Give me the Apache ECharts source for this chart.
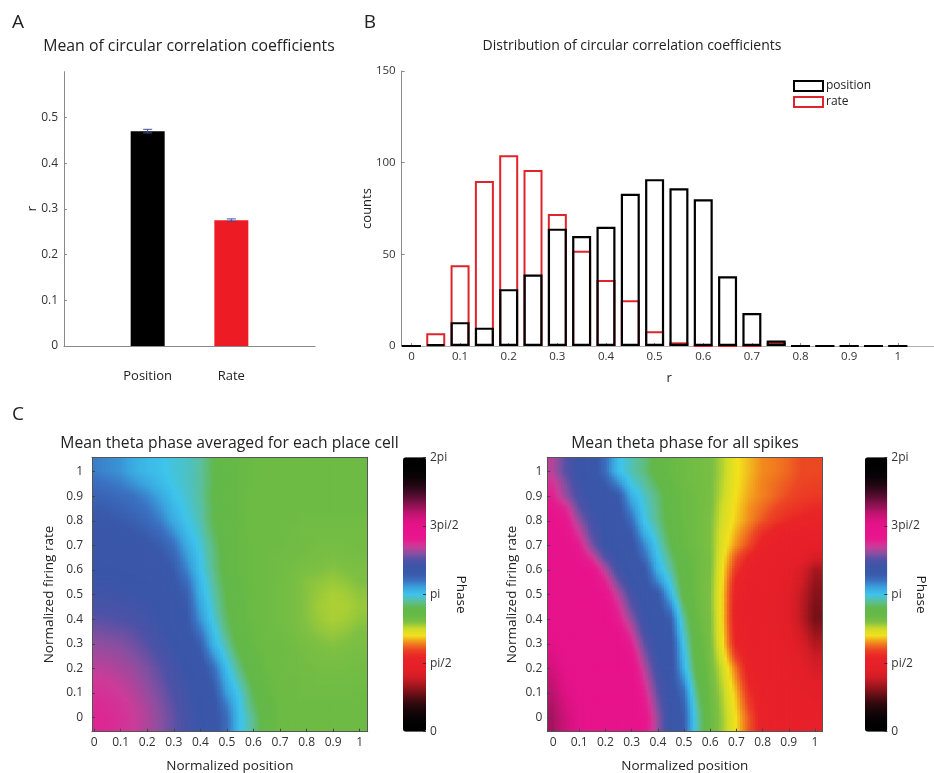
<!DOCTYPE html>
<html>
<head>
<meta charset="utf-8">
<script src="https://cdn.jsdelivr.net/npm/echarts@6/dist/echarts.min.js"></script>
<style>
  html, body { margin: 0; padding: 0; background: #ffffff; }
  #chart { width: 934px; height: 773px; }
</style>
</head>
<body>
<div id="chart"></div>
<script>
// ---------- Panel A: mean circular correlation ----------
const meanLabels = ['Position', 'Rate'];
const meanSlots = [1, 2];
const meanR = [0.470, 0.275];
const meanSem = [0.004, 0.003];
const meanTicks = [0, 0.1, 0.2, 0.3, 0.4, 0.5];
const meanTickLabels = ['0', '0.1', '0.2', '0.3', '0.4', '0.5'];

// ---------- Panel B: distribution of r ----------
const rBins = [0, 0.05, 0.1, 0.15, 0.2, 0.25, 0.3, 0.35, 0.4, 0.45, 0.5,
               0.55, 0.6, 0.65, 0.7, 0.75, 0.8, 0.85, 0.9, 0.95, 1];
const positionCounts = [0, 1, 13, 10, 31, 39, 64, 60, 65, 83, 91, 86, 80, 38, 18, 3, 0, 0, 0, 0, 0];
const rateCounts     = [0, 7, 44, 90, 104, 96, 72, 52, 36, 25, 8, 2, 0, 0, 0, 2, 0, 0, 0, 0, 0];
const countTicks = [0, 50, 100, 150];
const countTickLabels = ['0', '50', '100', '150'];
const rTicks = [0, 0.1, 0.2, 0.3, 0.4, 0.5, 0.6, 0.7, 0.8, 0.9, 1];
const rTickLabels = ['0', '0.1', '0.2', '0.3', '0.4', '0.5', '0.6', '0.7', '0.8', '0.9', '1'];

// ---------- Panel C: mean theta phase (degrees) ----------
const positionBins = [0, 0.05, 0.1, 0.15, 0.2, 0.25, 0.3, 0.35, 0.4, 0.45, 0.5,
                      0.55, 0.6, 0.65, 0.7, 0.75, 0.8, 0.85, 0.9, 0.95, 1];
// rows run from the highest firing-rate bin down to zero
const rateBins = [1, 0.95, 0.9, 0.85, 0.8, 0.75, 0.7, 0.65, 0.6, 0.55, 0.5,
                  0.45, 0.4, 0.35, 0.3, 0.25, 0.2, 0.15, 0.1, 0.05, 0];

const phasePerCell = [
  [196,194,192,187,183,181,178,176,172,163,155,152,151,150,150,150,150,150,150,150,150],
  [200,198,196,192,188,183,179,176,172,163,155,152,151,150,150,150,150,150,150,150,150],
  [203,202,200,198,194,188,181,177,172,162,155,152,150,150,150,150,150,150,150,150,150],
  [206,205,203,201,198,192,184,178,173,163,155,152,150,150,150,150,150,150,150,150,150],
  [208,207,206,204,201,196,187,180,174,163,155,152,150,150,150,150,149,149,149,149,149],
  [210,210,209,207,205,201,193,183,176,165,156,152,150,150,150,149,148,148,148,148,148],
  [212,212,211,210,208,205,199,187,178,168,157,152,151,150,150,149,148,147,147,147,148],
  [213,213,213,212,210,208,203,191,180,169,158,152,151,150,149,148,147,146,145,146,147],
  [214,214,214,213,212,210,206,195,181,170,158,152,151,150,149,147,145,144,143,144,145],
  [217,217,216,215,214,212,208,200,184,172,160,153,151,150,148,146,143,142,141,142,144],
  [220,219,218,217,215,213,210,204,186,174,162,153,151,150,148,146,143,141,139,140,142],
  [223,222,221,220,218,215,211,206,189,176,163,154,151,150,148,146,143,140,139,139,141],
  [227,226,225,223,220,216,212,208,192,178,165,154,151,150,148,146,143,141,139,140,142],
  [231,230,229,227,223,219,214,210,198,182,168,156,152,150,149,147,144,142,141,142,144],
  [235,234,233,230,226,221,216,212,204,185,172,158,152,150,150,148,146,144,143,144,145],
  [238,237,236,233,229,224,219,214,208,192,177,163,153,151,150,149,147,146,145,146,147],
  [241,240,238,236,232,227,221,216,212,200,182,168,155,151,150,149,148,147,147,147,148],
  [244,243,241,238,234,229,223,217,213,204,186,173,159,152,150,150,149,148,148,148,149],
  [246,245,243,240,236,231,225,219,214,208,190,178,163,153,150,150,149,149,149,149,150],
  [248,247,245,242,238,233,227,221,215,210,196,180,166,155,151,150,150,150,150,150,150],
  [249,248,246,243,239,234,228,222,216,211,200,181,170,156,151,150,150,150,150,150,150]
];

const phaseAllSpikes = [
  [240,226,216,212,200,182,174,168,158,152,150,148,146,138,127,122,117,115,112,108,108],
  [246,232,219,213,206,194,179,172,163,153,150,148,146,137,127,121,116,113,110,107,106],
  [250,236,222,214,212,207,186,176,168,155,151,149,146,136,126,120,116,112,108,105,104],
  [256,248,228,217,213,210,193,178,169,157,151,149,146,134,125,118,113,108,104,102,100],
  [260,255,236,221,214,212,200,180,170,158,151,149,145,133,124,117,110,104,100,98,97],
  [261,259,244,226,215,213,206,186,174,160,152,149,145,131,121,112,102,96,93,92,90],
  [262,262,252,232,216,213,211,194,178,163,152,149,145,130,118,108,96,92,90,88,85],
  [263,263,258,245,226,215,212,200,182,168,154,150,146,128,110,98,92,90,88,84,75],
  [264,264,263,258,240,220,213,208,186,172,156,150,146,126,104,92,90,88,84,75,62],
  [265,265,264,262,250,230,216,210,195,178,158,150,145,125,98,91,89,87,82,72,58],
  [265,265,265,264,258,240,222,213,208,185,160,150,145,124,95,90,88,86,80,68,55],
  [266,265,265,265,262,247,228,215,210,195,166,151,145,124,94,90,88,86,80,67,53],
  [266,266,265,265,264,252,235,218,212,204,172,152,146,124,94,90,88,86,80,67,52],
  [269,266,266,265,265,259,243,222,213,208,176,154,146,125,96,90,88,87,82,71,58],
  [272,267,266,265,265,264,250,228,214,211,180,155,147,126,98,91,89,88,84,75,64],
  [276,268,266,265,265,265,257,234,217,212,183,158,147,130,105,92,89,88,86,79,70],
  [280,270,266,265,265,265,262,240,220,212,186,160,148,134,114,94,90,89,87,82,75],
  [284,273,267,265,265,265,264,245,224,212,193,164,149,136,118,98,91,89,88,85,80],
  [287,276,268,265,265,265,265,250,228,213,200,168,150,138,122,102,92,90,89,87,84],
  [290,279,270,266,265,265,265,254,232,214,203,172,151,139,124,106,93,90,89,88,86],
  [292,282,272,266,265,265,265,258,236,215,205,175,152,140,126,110,94,91,90,89,88]
];

const phaseTicks = [0, 90, 180, 270, 360];
const phaseTickLabels = ['0', 'pi/2', 'pi', '3pi/2', '2pi'];
const unitTicks = [0, 0.1, 0.2, 0.3, 0.4, 0.5, 0.6, 0.7, 0.8, 0.9, 1];
const unitTickLabels = ['0', '0.1', '0.2', '0.3', '0.4', '0.5', '0.6', '0.7', '0.8', '0.9', '1'];

// cyclic phase colour map, 0 -> 2pi (evenly spaced stops)
const phaseColors = [
  '#000000', '#030102', '#080304', '#170508', '#2e080c', '#540c13', '#82121a', '#ae1820',
  '#d21d26', '#e31f28', '#e8202a', '#e92527', '#ec4824', '#f28a1e', '#f2e01c', '#cfdc29',
  '#7ec043', '#65b946', '#62b84a', '#5cbf98', '#3ec4ec', '#3aa4de', '#3b72c2', '#3a58a9',
  '#3a56a8', '#4e52a7', '#8a4fa0', '#cc3c98', '#e61a8f', '#e8138c', '#e5138a', '#d8127f',
  '#b8146c', '#8e1252', '#640e3a', '#3e0a24', '#200612', '#0c0307', '#040203', '#010101',
  '#000000'
];

const FONT = '"Open Sans", sans-serif';
const TXT = '#222222';
const AXIS = '#8a8a8a';

function labelFor(ticks, labels) {
  return function (v) {
    let k = 0;
    ticks.forEach(function (t, i) { if (Math.abs(t - v) < Math.abs(ticks[k] - v)) k = i; });
    return labels[k];
  };
}

// colour lookup identical to the continuous visualMap (linear between even stops)
const rgbStops = phaseColors.map(function (h) {
  return [parseInt(h.slice(1, 3), 16), parseInt(h.slice(3, 5), 16), parseInt(h.slice(5, 7), 16)];
});
function phaseColor(v) {
  const t = Math.max(0, Math.min(1, v / 360)) * (rgbStops.length - 1);
  const i = Math.min(rgbStops.length - 2, Math.floor(t));
  const f = t - i;
  const a = rgbStops[i], b = rgbStops[i + 1];
  return 'rgb(' + Math.round(a[0] + (b[0] - a[0]) * f) + ',' +
    Math.round(a[1] + (b[1] - a[1]) * f) + ',' + Math.round(a[2] + (b[2] - a[2]) * f) + ')';
}

function cellData(matrix) {
  const out = [];
  matrix.forEach(function (row, r) {
    row.forEach(function (v, c) { out.push([positionBins[c], rateBins[r], v, r, c]); });
  });
  return out;
}

// Each cell is shaded with bilinear interpolation between neighbouring
// bin centres (interpolated shading), split into SUB x SUB patches.
const SUB = 5;
function renderCell(xs, ys) {
  const nC = xs.length, nR = ys.length;
  const dx = Math.abs(xs[1] - xs[0]) / 2;
  const dy = Math.abs(ys[1] - ys[0]) / 2;
  return function (params, api) {
    const x = api.value(0), y = api.value(1);
    const r = api.value(3), c = api.value(4);
    const at = function (rr, cc) {
      rr = Math.max(0, Math.min(nR - 1, rr));
      cc = Math.max(0, Math.min(nC - 1, cc));
      return api.value(2, rr * nC + cc);
    };
    const children = [];
    for (let i = 0; i < SUB; i++) {
      for (let j = 0; j < SUB; j++) {
        const u0 = -1 + 2 * i / SUB, u1 = -1 + 2 * (i + 1) / SUB;
        const w0 = -1 + 2 * j / SUB, w1 = -1 + 2 * (j + 1) / SUB;
        let l = x + u0 * dx, rgt = x + u1 * dx;
        let top = y - w0 * dy, bot = y - w1 * dy;
        if (c === 0 && i === 0) l = x - 4 * dx;
        if (c === nC - 1 && i === SUB - 1) rgt = x + 4 * dx;
        if (r === 0 && j === 0) top = y + 4 * dy;
        if (r === nR - 1 && j === SUB - 1) bot = y - 4 * dy;
        // sub-patch centre in fractional grid units
        const cf = c + (u0 + u1) / 4;
        const rf = r + (w0 + w1) / 4;
        const c0 = Math.floor(cf), r0 = Math.floor(rf);
        const fc = cf - c0, fr = rf - r0;
        const v = (1 - fr) * ((1 - fc) * at(r0, c0) + fc * at(r0, c0 + 1)) +
                  fr * ((1 - fc) * at(r0 + 1, c0) + fc * at(r0 + 1, c0 + 1));
        const p0 = api.coord([l, top]);
        const p1 = api.coord([rgt, bot]);
        children.push({
          type: 'rect',
          shape: { x: p0[0] - 0.4, y: p0[1] - 0.4, width: p1[0] - p0[0] + 0.8, height: p1[1] - p0[1] + 0.8 },
          style: { fill: phaseColor(v) }
        });
      }
    }
    return { type: 'group', children: children };
  };
}

function renderErrorBar(params, api) {
  const x = api.value(0), m = api.value(1), e = api.value(2);
  const hi = api.coord([x, m + e]);
  const lo = api.coord([x, m - e]);
  const cap = 4.5;
  const st = { stroke: '#3f4f9f', lineWidth: 1 };
  return {
    type: 'group',
    children: [
      { type: 'line', shape: { x1: hi[0], y1: hi[1], x2: lo[0], y2: lo[1] }, style: st },
      { type: 'line', shape: { x1: hi[0] - cap, y1: hi[1], x2: hi[0] + cap, y2: hi[1] }, style: st },
      { type: 'line', shape: { x1: lo[0] - cap, y1: lo[1], x2: lo[0] + cap, y2: lo[1] }, style: st }
    ]
  };
}

function text(str, x, y, size) {
  return {
    type: 'text', x: x, y: y, silent: true,
    style: {
      text: str, fontSize: size, fontFamily: FONT, fill: TXT,
      textAlign: 'center', textVerticalAlign: 'middle', align: 'center', verticalAlign: 'middle'
    }
  };
}

const labelStyle = { color: '#333333', fontFamily: FONT, fontSize: 12 };
const noZero = { onZero: false };

function heatX(gridIndex, min, max) {
  return {
    gridIndex: gridIndex, type: 'value', min: min, max: max, z: 5,
    axisLine: Object.assign({ show: true, lineStyle: { color: '#555555', width: 1 } }, noZero),
    axisTick: { show: true, inside: true, length: 3, customValues: unitTicks, lineStyle: { color: '#444444' } },
    axisLabel: Object.assign({ customValues: unitTicks, formatter: labelFor(unitTicks, unitTickLabels), margin: 5 }, labelStyle),
    splitLine: { show: false },
    name: 'Normalized position', nameLocation: 'middle', nameGap: 27, nameMoveOverlap: false,
    nameTextStyle: { fontFamily: FONT, fontSize: 13.5, color: TXT }
  };
}
function heatY(gridIndex, gap, margin) {
  return {
    gridIndex: gridIndex, type: 'value', min: -0.057, max: 1.058, z: 5,
    axisLine: Object.assign({ show: true, lineStyle: { color: '#555555', width: 1 } }, noZero),
    axisTick: { show: true, inside: true, length: 3, customValues: unitTicks, lineStyle: { color: '#444444' } },
    axisLabel: Object.assign({ customValues: unitTicks, formatter: labelFor(unitTicks, unitTickLabels), margin: margin }, labelStyle),
    splitLine: { show: false },
    name: 'Normalized firing rate', nameLocation: 'middle', nameGap: gap, nameMoveOverlap: false,
    nameTextStyle: { fontFamily: FONT, fontSize: 13.5, color: TXT }
  };
}
function frameX(gridIndex, min, max) {
  return {
    gridIndex: gridIndex, type: 'value', position: 'top', min: min, max: max, z: 5,
    axisLine: Object.assign({ show: true, lineStyle: { color: '#555555', width: 1 } }, noZero),
    axisTick: { show: false }, axisLabel: { show: false }, splitLine: { show: false }
  };
}
function frameY(gridIndex) {
  return {
    gridIndex: gridIndex, type: 'value', position: 'right', min: -0.057, max: 1.058, z: 5,
    axisLine: Object.assign({ show: true, lineStyle: { color: '#555555', width: 1 } }, noZero),
    axisTick: { show: false }, axisLabel: { show: false }, splitLine: { show: false }
  };
}
function barX(gridIndex) {
  return { gridIndex: gridIndex, type: 'value', min: 0, max: 1, show: false };
}
function barY(gridIndex, gap) {
  return {
    gridIndex: gridIndex, type: 'value', position: 'right', min: 0, max: 360, z: 10,
    axisLine: { show: false, onZero: false },
    axisTick: { show: true, inside: true, length: 3, customValues: phaseTicks, lineStyle: { color: '#333333' } },
    axisLabel: Object.assign({ customValues: phaseTicks, formatter: labelFor(phaseTicks, phaseTickLabels), margin: 4 }, labelStyle),
    splitLine: { show: false },
    name: 'Phase', nameLocation: 'middle', nameRotate: -90, nameGap: gap, nameMoveOverlap: false,
    nameTextStyle: { fontFamily: FONT, fontSize: 13.5, color: TXT }
  };
}

const chart = echarts.init(document.getElementById('chart'), null, { renderer: 'canvas' });

const option = {
  animation: false,
  backgroundColor: '#ffffff',
  textStyle: { fontFamily: FONT },
  grid: [
    { left: 64, top: 71.7, width: 251, height: 274.3, outerBoundsMode: 'none' },
    { left: 401.7, top: 71, width: 535, height: 275, outerBoundsMode: 'none' },
    { left: 92, top: 457.3, width: 275.7, height: 274.4, outerBoundsMode: 'none' },
    { left: 547.3, top: 457.3, width: 275, height: 274.4, outerBoundsMode: 'none' },
    { left: 403, top: 457.3, width: 23, height: 274.4, outerBoundsMode: 'none' },
    { left: 865, top: 457.3, width: 22.3, height: 274.4, outerBoundsMode: 'none' }
  ],
  xAxis: [
    {
      gridIndex: 0, type: 'value', min: 0, max: 3,
      axisLine: { show: true, onZero: false, lineStyle: { color: AXIS } },
      axisTick: { show: false },
      axisLabel: Object.assign({}, labelStyle, { customValues: meanSlots, formatter: labelFor(meanSlots, meanLabels), margin: 24, fontSize: 13, color: TXT }),
      splitLine: { show: false }
    },
    {
      gridIndex: 1, type: 'value', min: -0.02, max: 1.08,
      axisLine: { show: true, onZero: false, lineStyle: { color: '#b0b0b0' } },
      axisTick: { show: true, inside: true, length: 3, customValues: rTicks, lineStyle: { color: AXIS } },
      axisLabel: Object.assign({}, labelStyle, { customValues: rTicks, formatter: labelFor(rTicks, rTickLabels), margin: 5, fontSize: 11.5 }),
      splitLine: { show: false },
      name: 'r', nameLocation: 'middle', nameGap: 26, nameMoveOverlap: false,
      nameTextStyle: { fontFamily: FONT, fontSize: 13, color: TXT }
    },
    heatX(2, -0.008, 1.03),
    frameX(2, -0.008, 1.03),
    heatX(3, -0.022, 1.028),
    frameX(3, -0.022, 1.028),
    barX(4),
    barX(5)
  ],
  yAxis: [
    {
      gridIndex: 0, type: 'value', min: 0, max: 0.6,
      axisLine: { show: true, onZero: false, lineStyle: { color: AXIS } },
      axisTick: { show: true, inside: true, length: 3, customValues: meanTicks, lineStyle: { color: AXIS } },
      axisLabel: Object.assign({}, labelStyle, { customValues: meanTicks, formatter: labelFor(meanTicks, meanTickLabels), margin: 6, fontSize: 12 }),
      splitLine: { show: false },
      name: 'r', nameLocation: 'middle', nameGap: 25, nameMoveOverlap: false,
      nameTextStyle: { fontFamily: FONT, fontSize: 13.5, color: TXT }
    },
    {
      gridIndex: 1, type: 'value', min: 0, max: 150,
      axisLine: { show: true, onZero: false, lineStyle: { color: AXIS } },
      axisTick: { show: true, inside: true, length: 3, customValues: countTicks, lineStyle: { color: AXIS } },
      axisLabel: Object.assign({}, labelStyle, { customValues: countTicks, formatter: labelFor(countTicks, countTickLabels), margin: 6, fontSize: 11.5 }),
      splitLine: { show: false },
      name: 'counts', nameLocation: 'middle', nameGap: 28, nameMoveOverlap: false,
      nameTextStyle: { fontFamily: FONT, fontSize: 13, color: TXT }
    },
    heatY(2, 36, 9),
    frameY(2),
    heatY(3, 28, 5),
    frameY(3),
    barY(4, 28),
    barY(5, 27)
  ],
  legend: {
    left: 793, top: 80, orient: 'vertical', padding: 0, itemGap: 4,
    itemWidth: 29, itemHeight: 10, selectedMode: false,
    textStyle: { fontFamily: FONT, fontSize: 12, color: TXT, padding: [0, 0, 0, -2] },
    data: [
      { name: 'position', icon: 'rect', itemStyle: { color: 'rgba(0,0,0,0)', borderColor: '#000000', borderWidth: 2 } },
      { name: 'rate', icon: 'rect', itemStyle: { color: 'rgba(0,0,0,0)', borderColor: '#e0242b', borderWidth: 2 } }
    ]
  },
  visualMap: [
    {
      type: 'continuous', seriesIndex: 4, dimension: 2, min: 0, max: 360,
      inRange: { color: phaseColors }, calculable: false, hoverLink: false,
      orient: 'vertical', left: 403, top: 457.3, itemWidth: 23, itemHeight: 274.4, padding: 0
    },
    {
      type: 'continuous', seriesIndex: 5, dimension: 2, min: 0, max: 360,
      inRange: { color: phaseColors }, calculable: false, hoverLink: false,
      orient: 'vertical', left: 865, top: 457.3, itemWidth: 22.3, itemHeight: 274.4, padding: 0
    }
  ],
  series: [
    {
      type: 'bar', xAxisIndex: 0, yAxisIndex: 0, barWidth: 34,
      data: meanR.map(function (v, i) {
        return { value: [meanSlots[i], v], itemStyle: { color: i === 0 ? '#000000' : '#ed1c24' } };
      })
    },
    {
      type: 'custom', xAxisIndex: 0, yAxisIndex: 0, z: 5,
      renderItem: renderErrorBar,
      encode: { x: 0, y: 1 },
      data: meanR.map(function (v, i) { return [meanSlots[i], v, meanSem[i]]; })
    },
    {
      name: 'rate', type: 'bar', xAxisIndex: 1, yAxisIndex: 1, barWidth: 19, barGap: '-100%',
      itemStyle: { color: 'rgba(0,0,0,0)', borderColor: '#e0242b', borderWidth: 2 },
      data: rBins.map(function (x, i) { return [x, rateCounts[i]]; })
    },
    {
      name: 'position', type: 'bar', xAxisIndex: 1, yAxisIndex: 1, barWidth: 19, barGap: '-100%',
      itemStyle: { color: 'rgba(0,0,0,0)', borderColor: '#000000', borderWidth: 2.2 },
      data: rBins.map(function (x, i) { return [x, positionCounts[i]]; })
    },
    {
      type: 'custom', xAxisIndex: 2, yAxisIndex: 2, clip: true, silent: true,
      renderItem: renderCell(positionBins, rateBins),
      encode: { x: 0, y: 1 },
      data: cellData(phasePerCell)
    },
    {
      type: 'custom', xAxisIndex: 4, yAxisIndex: 4, clip: true, silent: true,
      renderItem: renderCell(positionBins, rateBins),
      encode: { x: 0, y: 1 },
      data: cellData(phaseAllSpikes)
    }
  ],
  graphic: [
    text('A', 18, 23, 19),
    text('B', 370, 23, 19),
    text('C', 18, 415, 19),
    text('Mean of circular correlation coefficients', 189, 46.5, 15.8),
    text('Distribution of circular correlation coefficients', 632, 46, 14),
    text('Mean theta phase averaged for each place cell', 229.5, 443.5, 15.7),
    text('Mean theta phase for all spikes', 685, 443.5, 15.7)
  ]
};

chart.setOption(option);
</script>
</body>
</html>
